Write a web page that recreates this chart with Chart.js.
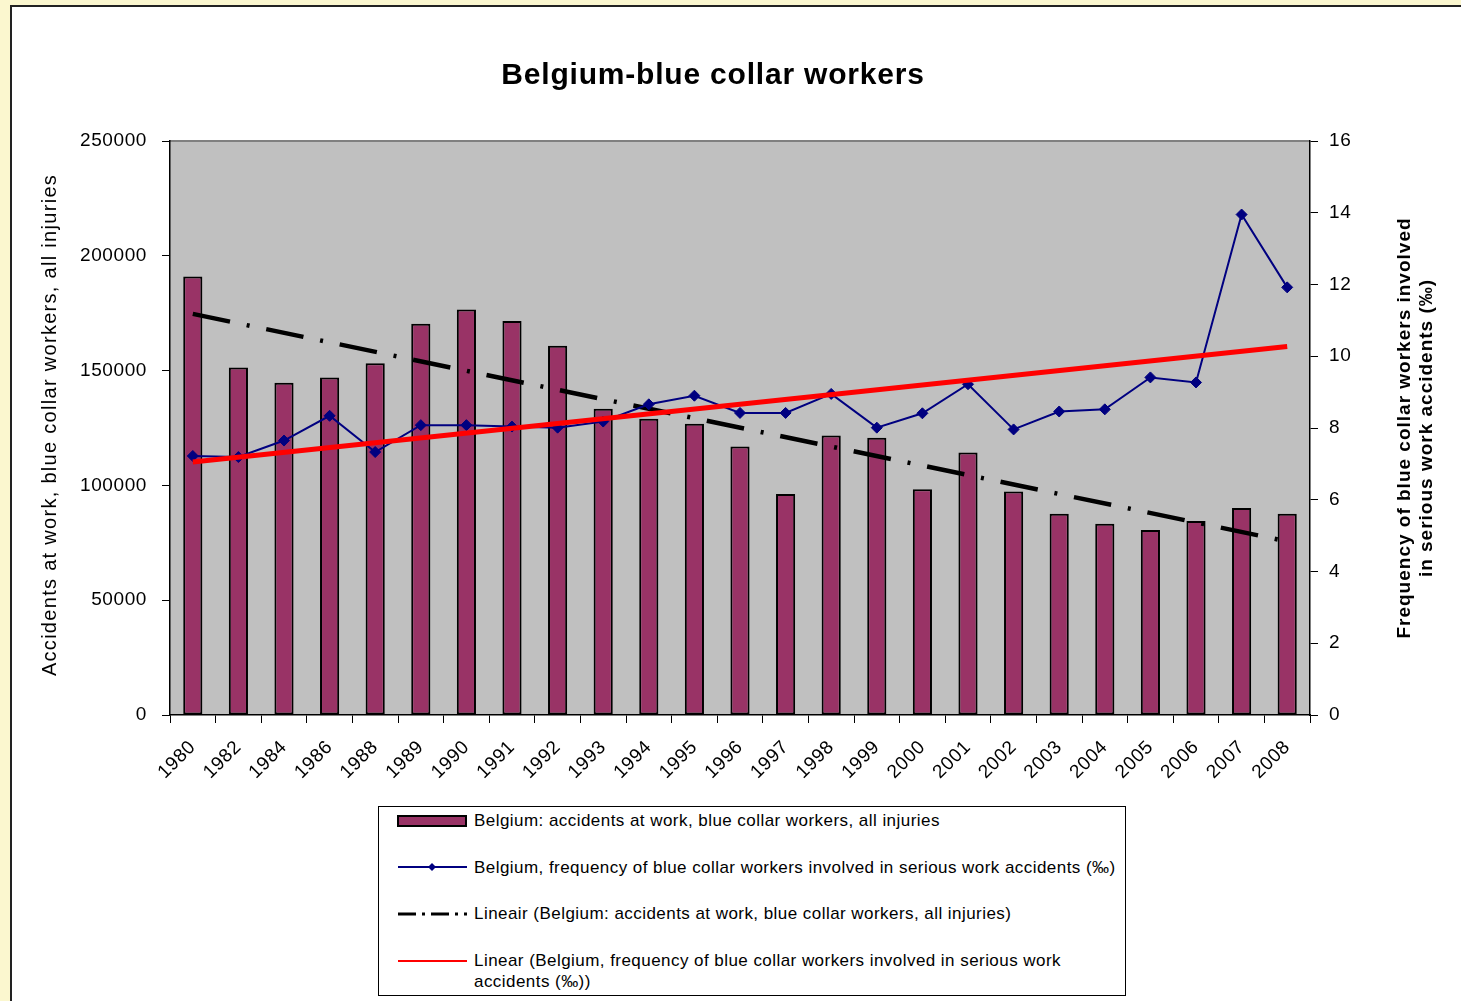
<!DOCTYPE html>
<html>
<head>
<meta charset="utf-8">
<script src="https://cdn.jsdelivr.net/npm/chart.js@4.4.1/dist/chart.umd.min.js"></script>
<style>
  html, body { margin: 0; padding: 0; width: 1461px; height: 1001px; overflow: hidden; background: #FBF7CF; font-family: "Liberation Sans", Arial, sans-serif; }
  #frame { position: absolute; left: 10px; top: 5px; width: 1451px; height: 996px; background: #fff; border-left: 2px solid #222; border-top: 2px solid #222; box-sizing: border-box; }
  #wrap { position: absolute; left: 0; top: 0; width: 1461px; height: 1001px; }
  #title { position: absolute; left: 363px; top: 57px; width: 700px; text-align: center; font: bold 30px "Liberation Sans", Arial, sans-serif; letter-spacing: 0.8px; color: #000; }
  #ytitle { position: absolute; left: 49px; top: 425px; width: 0; height: 0; }
  #ytitle div { position: absolute; left: -300px; top: -12px; width: 600px; text-align: center; transform: rotate(-90deg); font: 20px "Liberation Sans", Arial, sans-serif; letter-spacing: 1.3px; line-height: 24px; color: #000; white-space: nowrap; }
  #y1title { position: absolute; left: 1415px; top: 428px; width: 0; height: 0; }
  #y1title div { position: absolute; left: -300px; top: -22px; width: 600px; text-align: center; transform: rotate(-90deg); font: bold 19px "Liberation Sans", Arial, sans-serif; letter-spacing: 1px; line-height: 22px; color: #000; white-space: nowrap; }
  #legend { position: absolute; left: 378px; top: 806px; width: 748px; height: 190px; border: 1px solid #000; background: #fff; box-sizing: border-box; font: 17px "Liberation Sans", Arial, sans-serif; letter-spacing: 0.45px; color: #000; }
  #legend .txt { position: absolute; left: 95px; line-height: 21px; white-space: nowrap; }
  #legend svg { position: absolute; left: 0; top: 0; }
</style>
</head>
<body>
<div id="frame"></div>
<div id="wrap"><canvas id="c" width="1461" height="1001"></canvas></div>
<div id="title">Belgium-blue collar workers</div>
<div id="ytitle"><div>Accidents at work, blue collar workers, all injuries</div></div>
<div id="y1title"><div>Frequency of blue collar workers involved<br>in serious work accidents (‰)</div></div>
<div id="legend">
  <svg width="100" height="190">
    <rect x="19" y="9" width="68" height="10" fill="#993366" stroke="#000" stroke-width="2"/>
    <line x1="19" y1="60" x2="88" y2="60" stroke="#000080" stroke-width="2"/>
    <polygon points="53,56 57,60 53,64 49,60" fill="#000080"/>
    <line x1="19" y1="107" x2="88" y2="107" stroke="#000" stroke-width="3" stroke-dasharray="18,6,3,6"/>
    <line x1="19" y1="154" x2="88" y2="154" stroke="#FF0000" stroke-width="2"/>
  </svg>
  <div class="txt" style="top:3px">Belgium: accidents at work, blue collar workers, all injuries</div>
  <div class="txt" style="top:50px">Belgium, frequency of blue collar workers involved in serious work accidents (‰)</div>
  <div class="txt" style="top:96px">Lineair (Belgium: accidents at work, blue collar workers, all injuries)</div>
  <div class="txt" style="top:143px">Linear (Belgium, frequency of blue collar workers involved in serious work<br>accidents (‰))</div>
</div>
<script>
const years = ['1980','1982','1984','1986','1988','1989','1990','1991','1992','1993','1994','1995','1996','1997','1998','1999','2000','2001','2002','2003','2004','2005','2006','2007','2008'];
const accidents = [191000,151400,144700,147000,153200,170400,176600,171600,160800,133400,129000,126800,116900,96300,121700,120800,98300,114300,97300,87600,83300,80600,84500,90200,87600];
const frequency = [7.22,7.19,7.65,8.34,7.33,8.08,8.08,8.04,8.01,8.18,8.66,8.90,8.42,8.42,8.95,8.01,8.41,9.22,7.96,8.46,8.52,9.41,9.27,13.95,11.92];
// trend lines: values read at first and last category, nothing in between
const accidentsTrend = [174700,null,null,null,null,null,null,null,null,null,null,null,null,null,null,null,null,null,null,null,null,null,null,null,75600];
const frequencyTrend = [7.05,null,null,null,null,null,null,null,null,null,null,null,null,null,null,null,null,null,null,null,null,null,null,null,10.27];
const leftTicks = [0,50000,100000,150000,200000,250000];
const rightTicks = [0,2,4,6,8,10,12,14,16];

const plotBg = {
  id: 'plotBg',
  beforeInit(chart) { chart.ctx.letterSpacing = '0.6px'; },
  beforeDraw(chart) {
    const {ctx, chartArea: a} = chart;
    ctx.letterSpacing = '0.6px';
    ctx.save();
    ctx.fillStyle = '#C0C0C0';
    ctx.fillRect(a.left, a.top, a.right - a.left, a.bottom - a.top);
    ctx.strokeStyle = '#808080';
    ctx.lineWidth = 2;
    ctx.beginPath();
    ctx.moveTo(a.left, a.top);
    ctx.lineTo(a.right, a.top);
    ctx.stroke();
    ctx.restore();
  }
};

const tickFont = {family: '"Liberation Sans", Arial, sans-serif', size: 19};

new Chart(document.getElementById('c'), {
  type: 'bar',
  data: {
    labels: years,
    datasets: [
      {
        type: 'line', label: 'Linear (Belgium, frequency of blue collar workers involved in serious work accidents (‰))',
        data: frequencyTrend, yAxisID: 'y1', borderColor: '#FF0000', borderWidth: 5,
        pointRadius: 0, spanGaps: true, order: 0, borderCapStyle: 'butt'
      },
      {
        type: 'line', label: 'Belgium, frequency of blue collar workers involved in serious work accidents (‰)',
        data: frequency, yAxisID: 'y1', borderColor: '#000080', borderWidth: 2,
        pointStyle: 'rectRot', pointRadius: 5.5, pointBackgroundColor: '#000080', pointBorderColor: '#000080',
        pointBorderWidth: 1, order: 1, tension: 0
      },
      {
        type: 'line', label: 'Lineair (Belgium: accidents at work, blue collar workers, all injuries)',
        data: accidentsTrend, yAxisID: 'y', borderColor: '#000', borderWidth: 4.5,
        borderDash: [38, 17, 3, 17], pointRadius: 0, spanGaps: true, order: 2
      },
      {
        type: 'bar', label: 'Belgium: accidents at work, blue collar workers, all injuries',
        data: accidents, yAxisID: 'y', backgroundColor: '#993366', borderColor: '#000',
        borderWidth: 2, borderSkipped: false, barPercentage: 0.42, categoryPercentage: 1.0, order: 3
      }
    ]
  },
  options: {
    responsive: false,
    animation: false,
    events: [],
    layout: { padding: { left: 28, right: 0, top: 141, bottom: 186 } },
    plugins: { legend: { display: false }, tooltip: { enabled: false }, title: { display: false } },
    scales: {
      x: {
        offset: true,
        afterFit(s) { s.height = 100; },
        grid: { offset: true, drawOnChartArea: false, drawTicks: true, tickLength: 8, color: '#000', lineWidth: 1 },
        border: { display: true, color: '#000', width: 1.5 },
        ticks: { color: '#000', font: tickFont, maxRotation: 45, minRotation: 45, autoSkip: false, padding: 13 }
      },
      y: {
        position: 'left', min: 0, max: 250000,
        afterFit(s) { s.width = 142; },
        afterBuildTicks(s) { s.ticks = leftTicks.map(v => ({value: v})); },
        grid: { drawOnChartArea: false, drawTicks: true, tickLength: 8, color: '#000' },
        border: { display: true, color: '#000', width: 1.5 },
        ticks: { color: '#000', font: tickFont, padding: 15, callback: v => String(v) },
        title: { display: false }
      },
      y1: {
        position: 'right', min: 0, max: 16,
        afterFit(s) { s.width = 151; },
        afterBuildTicks(s) { s.ticks = rightTicks.map(v => ({value: v})); },
        grid: { drawOnChartArea: false, drawTicks: true, tickLength: 8, color: '#000' },
        border: { display: true, color: '#000', width: 1.5 },
        ticks: { color: '#000', font: tickFont, padding: 11, callback: v => String(v) }
      }
    }
  },
  plugins: [plotBg]
});
</script>
</body>
</html>
